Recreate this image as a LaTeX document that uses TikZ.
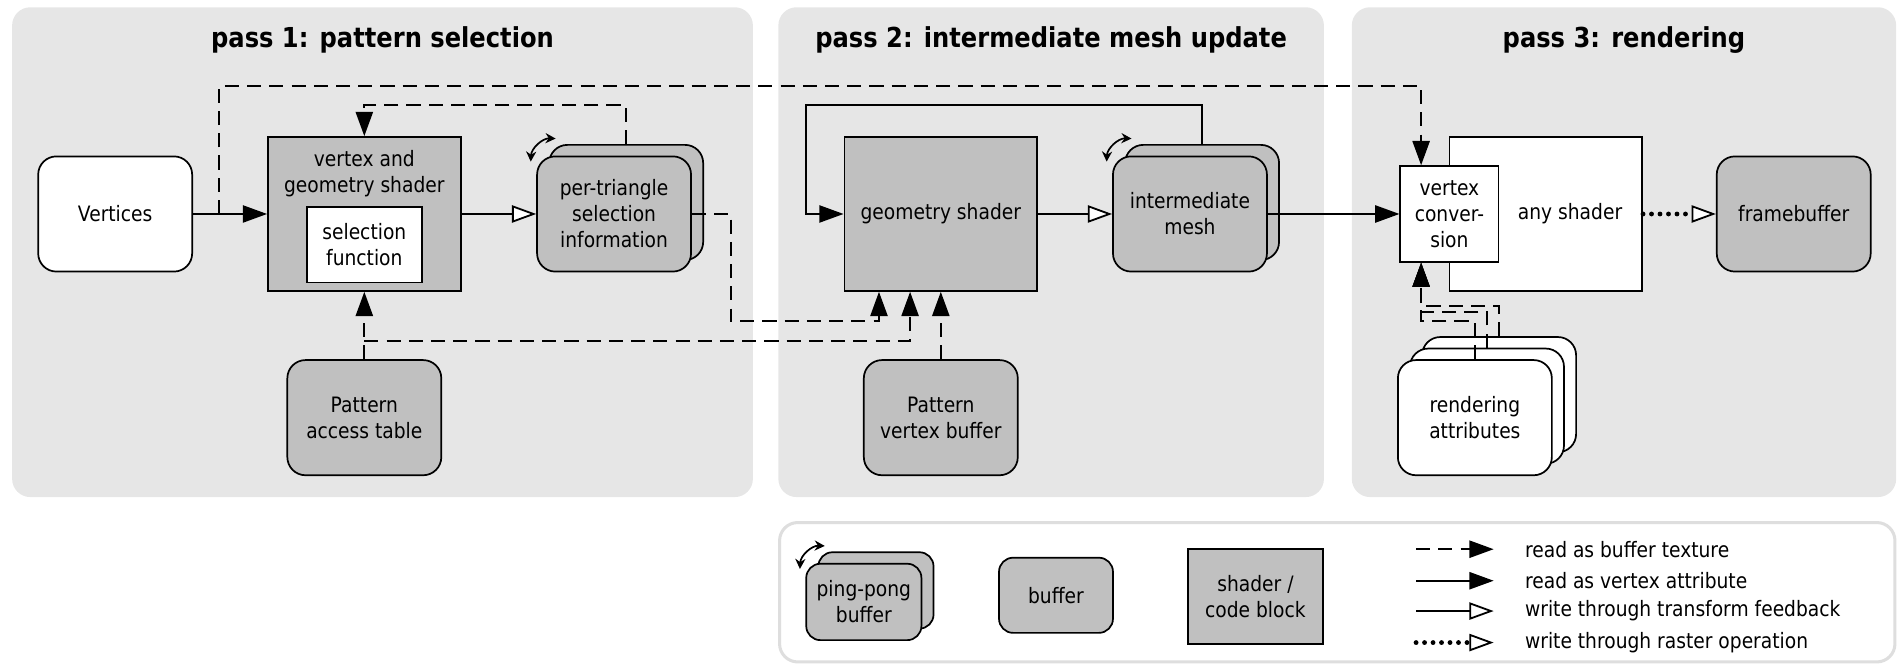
\documentclass[tikz,border=0pt]{standalone}
\usepackage{fontspec}
\setmainfont{DejaVu Sans}[FakeStretch=0.88]
\usetikzlibrary{arrows.meta,shadows}

\definecolor{panelgray}{RGB}{230,230,230}
\definecolor{boxgray}{RGB}{192,192,192}
\definecolor{framegray}{RGB}{222,222,222}

\begin{document}
\begin{tikzpicture}[x=0.6pt, y=-0.6pt,
  every node/.style={font=\fontsize{10.5}{12.9}\selectfont},
  panel/.style={fill=panelgray, rounded corners=9pt},
  passtitle/.style={font=\fontsize{13.6}{16}\selectfont\bfseries},
  shader/.style={draw, line width=0.85pt, fill=boxgray, minimum width=95.4pt, minimum height=76.2pt,
                 align=center, inner sep=1pt},
  buffer/.style={draw, line width=0.85pt, fill=boxgray, rounded corners=9pt, minimum width=76.2pt,
                 minimum height=57pt, align=center, inner sep=1pt},
  pingpong/.style={buffer, copy shadow={shadow xshift=6pt, shadow yshift=5.7pt, fill=boxgray, draw=black, line width=0.85pt}},
  bufstack/.style={buffer, fill=white,
                   copy shadow={shadow xshift=12pt, shadow yshift=11.4pt, fill=white, draw=black, line width=0.85pt},
                   copy shadow={shadow xshift=6pt, shadow yshift=5.7pt, fill=white, draw=black, line width=0.85pt}},
  texread/.style={draw, line width=0.95pt, dash pattern=on 7pt off 4pt, -{Triangle[length=12pt, width=8.5pt]}},
  vtxread/.style={draw, line width=0.9pt, -{Triangle[length=12pt, width=8.5pt]}},
  tfwrite/.style={draw, line width=0.9pt, -{Triangle[length=12pt, width=8.5pt, fill=white]}},
  rasterwrite/.style={draw, line width=2.4pt, line cap=round, dash pattern=on 0pt off 4.2pt,
                      -{Triangle[length=12pt, width=8.5pt, fill=white, line width=0.9pt]}},
  pingarrow/.style={line width=0.85pt, {Stealth[length=5pt, width=5pt]}-{Stealth[length=5pt, width=5pt]}},
]
\useasboundingbox (0,0) rectangle (1568,549);

\fill[panel] (10,6) rectangle (621,410);
\fill[panel] (642,6) rectangle (1092,410);
\fill[panel] (1115,6) rectangle (1564,410);
\draw[framegray, line width=1.5pt, fill=white, rounded corners=9pt] (643,431) rectangle (1563,546);

\node[passtitle] (pass1) at (315.5,33) {pass 1: pattern selection};
\node[passtitle] (pass2) at (867,33) {pass 2: intermediate mesh update};
\node[passtitle] (pass3) at (1339.5,33) {pass 3: rendering};

\node[buffer, fill=white] (vert) at (95,176.5) {Vertices};
\node[shader, label={[anchor=north, inner sep=0pt, yshift=-7pt, align=center]north:vertex and\\geometry shader}] (vgs) at (300.5,176.5) {};
\node[shader, fill=white, minimum width=57pt, minimum height=37.2pt] (selfn) at (300.5,202) {selection\\function};
\node[pingpong] (ptsel) at (506.5,176.5) {per-triangle\\selection\\information};
\node[buffer] (pat) at (300.5,344.5) {Pattern\\access table};

\node[shader] (geo) at (776,176.5) {geometry shader};
\node[pingpong] (imesh) at (981.5,176.5) {intermediate\\mesh};
\node[buffer] (pvb) at (776,344.5) {Pattern\\vertex buffer};

\node[shader, fill=white, label={[xshift=12pt]center:any shader}] (anysh) at (1275,176.5) {};
\node[shader, fill=white, minimum width=48.6pt, minimum height=47.4pt] (vc) at (1195.5,176.5) {vertex\\conver-\\sion};
\node[buffer] (fb) at (1479.5,176.5) {framebuffer};
\node[bufstack] (rattr) at (1216.5,344.5) {rendering\\attributes};

\node[pingpong, minimum width=57pt, minimum height=37.8pt, rounded corners=7pt] (legpp) at (712.5,496.5) {ping-pong\\buffer};
\node[buffer, minimum width=56.4pt, minimum height=37.2pt, rounded corners=7pt] (legbuf) at (871,491) {buffer};
\node[shader, minimum width=66.6pt, minimum height=46.8pt] (legcode) at (1035.5,492) {shader /\\code block};

\coordinate (vsplit) at (181,176.5);
\coordinate (psplit) at (300.5,281);
\draw[vtxread] (vert) -- (vgs);
\draw[texread] (vsplit) -- ++(0,-105.5) -| ([xshift=-14pt]vc.north);
\draw[tfwrite] (vgs) -- (ptsel);
\draw[texread] ([xshift=6pt,yshift=5.7pt]ptsel.north) -- ++(0,-32) -| (vgs.north);
\draw[texread] (ptsel.east) -- ++(32,0) -- ++(0,88.5) -| ([xshift=-30.6pt]geo.south);
\draw[texread] (pat) -- (vgs);
\draw[texread] (psplit) -| ([xshift=-15.2pt]geo.south);
\draw[texread] (pvb) -- (geo);
\draw[vtxread] ([xshift=6pt,yshift=5.7pt]imesh.north) -- ++(0,-32) -| ([xshift=-18.6pt]geo.west) -- (geo.west);
\draw[tfwrite] (geo) -- (imesh);
\draw[vtxread] (imesh) -- (vc);
\draw[rasterwrite] (anysh) -- (fb);
\draw[texread] ([xshift=12pt,yshift=11.4pt]rattr.north) -- ++(0,-25) -| ([xshift=-14pt]vc.south);
\draw[texread] ([xshift=6pt,yshift=5.7pt]rattr.north) -- ++(0,-29.5) -| ([xshift=-14pt]vc.south);
\draw[texread] (rattr.north) -- ++(0,-31.5) -| ([xshift=-14pt]vc.south);

\draw[pingarrow] ([shift={(-4.5,5)}]ptsel.north west) to[bend left=45] ([shift={(16,-14)}]ptsel.north west);
\draw[pingarrow] ([shift={(-4.5,5)}]imesh.north west) to[bend left=45] ([shift={(16,-14)}]imesh.north west);
\draw[pingarrow] ([shift={(-4.5,5)}]legpp.north west) to[bend left=45] ([shift={(16,-14)}]legpp.north west);

\coordinate (lg1) at (1168,453); \coordinate (lg1end) at (1232,453);
\coordinate (lg2) at (1168,479); \coordinate (lg2end) at (1232,479);
\coordinate (lg3) at (1168,504); \coordinate (lg3end) at (1232,504);
\coordinate (lg4) at (1168,530); \coordinate (lg4end) at (1232,530);
\node[anchor=west] (lgtext1) at (1252,453) {read as buffer texture};
\node[anchor=west] (lgtext2) at (1252,479) {read as vertex attribute};
\node[anchor=west] (lgtext3) at (1252,504) {write through transform feedback};
\node[anchor=west] (lgtext4) at (1252,530) {write through raster operation};
\draw[texread] (lg1) -- (lg1end);
\draw[vtxread] (lg2) -- (lg2end);
\draw[tfwrite] (lg3) -- (lg3end);
\draw[rasterwrite] (lg4) -- (lg4end);

\end{tikzpicture}
\end{document}
